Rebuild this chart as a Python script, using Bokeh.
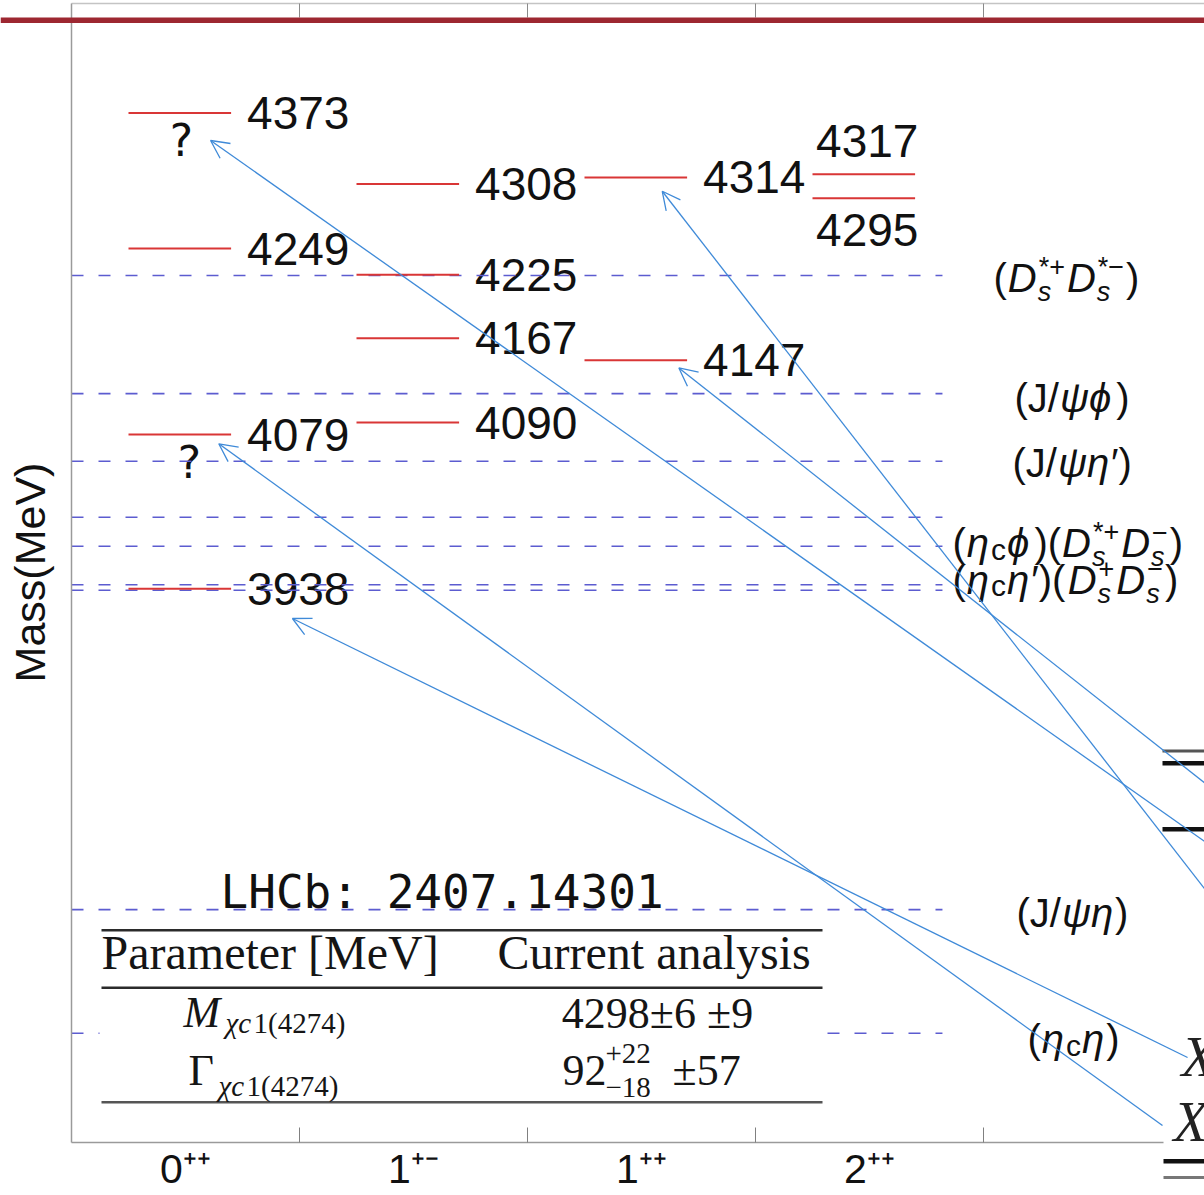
import math
from bokeh.plotting import figure
from bokeh.models import (ColumnDataSource, Range1d, LinearAxis, FixedTicker,
                          BoxAnnotation, Arrow, OpenHead, Label)
from bokeh.core.properties import value
from bokeh.embed import file_html
from bokeh.resources import INLINE

# ---------------- data ----------------
jpc_labels = ["0⁺⁺", "1⁺⁻", "1⁺⁺", "2⁺⁺"]

# predicted [cs][c̄s̄] levels (MeV) and the J^PC column each belongs to
level_col = [0, 0, 0, 0, 1, 1, 1, 1, 2, 2, 3, 3]
level_mass = [4373, 4249, 4079, 3938, 4308, 4225, 4167, 4090, 4314, 4147, 4317, 4295]

# two-meson thresholds (MeV)
threshold_mass = [4224.4, 4116.4, 4054.7, 4003.4, 3977.0, 3941.7, 3936.7, 3644.8, 3531.8]

# inset table (LHCb measurement)
table_ref = "LHCb: 2407.14301"
table_head = ["Parameter [MeV]", "Current analysis"]
mass_value = "4298±6 ±9"
width_value = ["92", "+22", "−18", "±57"]

# ---------------- geometry ----------------
W, H = 1204, 1195
FL, FT, FB = 71, 3, 1142          # axis box left / top / bottom (canvas px)
COL_W = 228                       # px per J^PC column
Y0, Y1 = 3432.0, 4473.0           # mass at the bottom / top of the axis box (MeV)


def px_x(px):
    return (px - FL) / COL_W


def px_y(py):
    return Y1 - (py - FT) * (Y1 - Y0) / (FB - FT)


SANS = value("Liberation Sans")
SERIF = "Liberation Serif"

# the drawing area spans the whole canvas; the axes sit at fixed locations inside it
p = figure(width=W, height=H,
           x_range=Range1d(px_x(0), px_x(W)), y_range=Range1d(px_y(H), px_y(0)),
           output_backend="svg", toolbar_location=None,
           x_axis_location=None, y_axis_location=None,
           min_border_left=0, min_border_right=0, min_border_top=0, min_border_bottom=0,
           outline_line_color=None, background_fill_color="white",
           border_fill_color="white")
p.grid.visible = False

# ---------------- axes ----------------
xb = LinearAxis(fixed_location=Y0,
                ticker=FixedTicker(ticks=[0.5, 1.5, 2.5, 3.5], minor_ticks=[1, 2, 3, 4]),
                major_label_overrides={0.5: jpc_labels[0], 1.5: jpc_labels[1],
                                       2.5: jpc_labels[2], 3.5: jpc_labels[3]},
                bounds=(0, px_x(1163)),
                axis_line_color="#9a9a9a", axis_line_width=1.5,
                major_tick_line_color=None, major_tick_in=0, major_tick_out=0,
                minor_tick_line_color="#808080", minor_tick_in=15, minor_tick_out=0,
                major_label_standoff=3, major_label_text_font="Liberation Sans",
                major_label_text_font_size="41px", major_label_text_color="#111111")
p.add_layout(xb, "below")

xt = LinearAxis(fixed_location=Y1,
                ticker=FixedTicker(ticks=[1, 2, 3, 4], minor_ticks=[]),
                major_label_overrides={1: "", 2: "", 3: "", 4: ""},
                bounds=(0, px_x(W)),
                axis_line_color="#c4c4c4", axis_line_width=1.5,
                major_tick_line_color="#8a8a8a", major_tick_in=14, major_tick_out=0,
                minor_tick_line_color=None, major_label_standoff=0,
                major_label_text_font_size="1px")
p.add_layout(xt, "above")

yl = LinearAxis(fixed_location=0.0,
                ticker=FixedTicker(ticks=[], minor_ticks=[]),
                bounds=(Y0, Y1),
                major_label_standoff=0, major_label_text_font_size="1px",
                major_tick_in=0, major_tick_out=0, minor_tick_in=0, minor_tick_out=0,
                axis_line_color="#9a9a9a", axis_line_width=1.5)
p.add_layout(yl, "left")

# vertical axis title
p.text(x=[px_x(29)], y=[px_y(572)], text=["Mass(MeV)"], angle=math.pi / 2,
       text_font=SANS, text_font_size="43px", text_align="center",
       text_baseline="middle", text_color="#111111")

# ---------------- level labels ----------------
side = [c for c in level_col if c < 3]
lab_src = ColumnDataSource(dict(
    x=[c + 0.77 for c in side],
    y=level_mass[:len(side)],
    t=[str(m) for m in level_mass[:len(side)]]))
p.text(x="x", y="y", text="t", source=lab_src, text_font=SANS, text_font_size="46px",
       text_baseline="middle", text_align="left", text_color="#111111")

# the two close 2++ states get their labels above / below the pair
top_src = ColumnDataSource(dict(x=[3.49], y=[level_mass[10]], t=[str(level_mass[10])]))
bot_src = ColumnDataSource(dict(x=[3.49], y=[level_mass[11]], t=[str(level_mass[11])]))
p.text(x="x", y="y", text="t", source=top_src, text_font=SANS, text_font_size="46px",
       text_baseline="middle", text_align="center", text_color="#111111", y_offset=-33)
p.text(x="x", y="y", text="t", source=bot_src, text_font=SANS, text_font_size="46px",
       text_baseline="middle", text_align="center", text_color="#111111", y_offset=32)

# question marks on the two uncertain assignments
p.text(x=[px_x(181), px_x(189)], y=[px_y(140), px_y(462)], text=["?", "?"],
       text_font=value("DejaVu Sans"), text_font_size="44px",
       text_baseline="middle", text_align="center", text_color="#111111")

# reference tag
p.text(x=[px_x(220)], y=[px_y(891)], text=[table_ref], text_font=value("DejaVu Sans Mono"),
       text_font_size="46px", text_baseline="middle", text_align="left",
       text_color="#111111")

# ---------------- thresholds ----------------
thr_src = ColumnDataSource(dict(x0=[0.0] * len(threshold_mass),
                                x1=[3.82] * len(threshold_mass),
                                y=threshold_mass))
p.segment(x0="x0", y0="y", x1="x1", y1="y", source=thr_src,
          line_color="#5c5cd0", line_width=1.6, line_dash="12 15")

# threshold names, typeset piece by piece (main text, subscripts, superscripts)
EM = {"(": .333, ")": .333, "J": .5, "/": .278, "D": .722, "s": .5, "c": .5,
      "*": .389, "+": .584, "−": .584, "η": .58, "ψ": .72, "ϕ": .66, "′": .22}
MAIN, SCRIPT = 40, 27
ANCHOR = 1070


def tw(t, size):
    return sum(EM.get(ch, .55) for ch in t) * size


def piece(txt, y, dx, dy, size, italic):
    p.text(x=[px_x(ANCHOR)], y=[y], text=[txt], x_offset=dx, y_offset=dy,
           text_font=SANS, text_font_size=f"{size}px",
           text_font_style="italic" if italic else "normal",
           text_baseline="middle", text_align="left", text_color="#111111")


def formula(tokens, thr_i, left_px, dy):
    y = threshold_mass[thr_i]
    x = left_px - ANCHOR
    for tok in tokens:
        kind = tok[0]
        if kind in ("n", "i"):
            piece(tok[1], y, x, dy, MAIN, kind == "i")
            x += tw(tok[1], MAIN) + 1
        elif kind == "c":
            piece(tok[1], y, x, dy + 6, 30, False)
            x += tw(tok[1], 30) + 1
        elif kind == "ss":
            piece(tok[1], y, x + 1, dy - 11, SCRIPT, False)
            piece(tok[2], y, x, dy + 14, SCRIPT, True)
            x += max(tw(tok[1], SCRIPT), tw(tok[2], SCRIPT)) + 3


formula([("n", "("), ("i", "D"), ("ss", "*+", "s"), ("i", "D"), ("ss", "*−", "s"),
         ("n", ")")], 0, 993, 2)
formula([("n", "(J/"), ("i", "ψϕ"), ("n", ")")], 1, 1014, 4)
formula([("n", "(J/"), ("i", "ψη"), ("n", "′)")], 2, 1012, 2)
formula([("n", "("), ("i", "η"), ("c", "c"), ("i", "ϕ"), ("n", ")("), ("i", "D"),
         ("ss", "*+", "s"), ("i", "D"), ("ss", "−", "s"), ("n", ")")], 4, 952, -3)
formula([("n", "("), ("i", "η"), ("c", "c"), ("i", "η"), ("n", "′)("), ("i", "D"),
         ("ss", "+", "s"), ("i", "D"), ("ss", "−", "s"), ("n", ")")], 5, 952, -5)
formula([("n", "(J/"), ("i", "ψη"), ("n", ")")], 7, 1016, 3)
formula([("n", "("), ("i", "η"), ("c", "c"), ("i", "η"), ("n", ")")], 8, 1027, 6)

# ---------------- levels ----------------
lv_src = ColumnDataSource(dict(x0=[c + 0.25 for c in level_col],
                               x1=[c + 0.70 for c in level_col],
                               y=level_mass))
p.segment(x0="x0", y0="y", x1="x1", y1="y", source=lv_src,
          line_color="#d93636", line_width=2)


# ---------------- inset table ----------------
def cbox(left, right, top, bottom, color, level="annotation"):
    p.add_layout(BoxAnnotation(left=left, right=right, top=top, bottom=bottom,
                               left_units="canvas", right_units="canvas",
                               top_units="canvas", bottom_units="canvas",
                               fill_color=color, fill_alpha=1, line_color=None,
                               level=level))


cbox(99, 824, 921, 1106, "white")
for top, bot, col in [(928.5, 931, "#2b2b2b"), (986, 988.5, "#2b2b2b"), (1100.5, 1103, "#555555")]:
    cbox(101, 822, top, bot, col)


def tlab(text, px, py, size, style="normal", align="left", font=SERIF, color="#151515"):
    p.add_layout(Label(x=px_x(px), y=px_y(py), text=text, text_font=font,
                       text_font_size=f"{size}px", text_font_style=style,
                       text_align=align, text_baseline="middle", text_color=color))


tlab(table_head[0], 101, 952, 48)
tlab(table_head[1], 497, 952, 48)
tlab("M", 183, 1012, 44, "italic")
tlab("χc", 225, 1022, 29, "italic")
tlab("1(4274)", 253, 1022, 29)
tlab("Γ", 188, 1070, 44)
tlab("χc", 218, 1085, 29, "italic")
tlab("1(4274)", 246, 1085, 29)
tlab(mass_value, 657, 1013, 44, align="center")
tlab(width_value[0], 562, 1070, 44)
tlab(width_value[1], 605, 1053, 29)
tlab(width_value[2], 605, 1087, 29)
tlab(width_value[3], 672, 1070, 44)

# ---------------- neighbouring panel edge ----------------
for top, bot, col, left in [(749, 752, "#555555", 1162), (760.5, 765, "#111111", 1162),
                            (826.5, 831, "#111111", 1162), (1158.5, 1163, "#111111", 1163),
                            (1175.5, 1178.5, "#777777", 1163)]:
    cbox(left, W, top, bot, col)
tlab("X", 1181, 1056, 56, "italic", color="#222222")
tlab("X", 1173, 1121, 56, "italic", color="#222222")

# ---------------- assignment arrows ----------------
links = [
    (5.39, 3645.4, 0.610, 4347.8),
    (5.39, 3551.3, 2.591, 4301.4),
    (5.39, 3691.6, 2.664, 4139.9),
    (4.785, 3447.5, 0.646, 4070.6),
    (4.895, 3509.7, 0.969, 3910.9),
]
for xs, ys, xe, ye in links:
    p.add_layout(Arrow(x_start=xs, y_start=ys, x_end=xe, y_end=ye,
                       line_color="#3f8ad8", line_width=1.3,
                       end=OpenHead(size=18, line_color="#3f8ad8", line_width=1.3)))

# ---------------- header bar ----------------
cbox(0, W, 17, 22.5, "#9d2731", level="overlay")

open("out.html", "w").write(file_html(p, INLINE))
